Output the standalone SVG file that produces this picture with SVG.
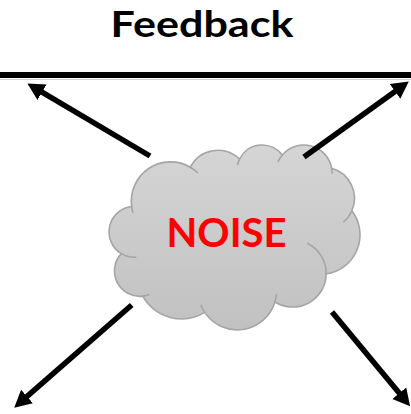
<svg xmlns="http://www.w3.org/2000/svg" width="411" height="414" viewBox="0 0 411 414">
  <defs>
    <linearGradient id="cloudFill" x1="0" y1="0" x2="0" y2="1">
      <stop offset="0" stop-color="#d5d5d5"/>
      <stop offset="1" stop-color="#c1c1c1"/>
    </linearGradient>
    <marker id="head" markerUnits="userSpaceOnUse" markerWidth="18" markerHeight="20" viewBox="0 0 18 20" refX="6" refY="10" orient="auto">
      <path d="M0,1 L17,10 L0,19 Z" fill="#000"/>
    </marker>
  </defs>
  <style>
    .title { font-family: Lato, "Open Sans", sans-serif; font-weight: bold; font-size: 36px; fill: #000; }
    .noise { font-family: Lato, "Open Sans", sans-serif; font-weight: bold; font-size: 40px; fill: #ff0000; }
    .cloud { fill: url(#cloudFill); stroke: #a5a5a5; stroke-width: 1.6; }
    .cloud-inner { fill: none; stroke: #a5a5a5; stroke-width: 1.6; }
    .arrow { stroke: #000; stroke-width: 5.5; fill: none; marker-end: url(#head); }
  </style>

  <!-- heading and the bar under it -->
  <g id="feedback">
    <text class="title" x="202" y="37" text-anchor="middle" textLength="183" lengthAdjust="spacingAndGlyphs">Feedback</text>
    <rect x="0" y="72" width="411" height="6" fill="#000"/>
    <line x1="0" y1="79.5" x2="411" y2="79.5" stroke="#d2d2d2" stroke-width="1"/>
  </g>

  <!-- cloud built in a 43200-unit box, scaled onto the page -->
  <g id="noise">
    <g transform="translate(109,145) scale(0.0058102,0.0042824)">
      <path class="cloud" vector-effect="non-scaling-stroke"
        d="M3900,14370
           A6753,9190 0 0 1 14000,5192
           A5333,7267 0 0 1 22462,3281
           A4365,5945 0 0 1 29839,2330
           A4857,6595 0 0 1 38324,5426
           A5333,7273 0 0 1 41798,15354
           A6775,9220 0 0 1 37384,30097
           A5785,7867 0 0 1 28550,36660
           A6752,9215 0 0 1 16478,39090
           A7720,10543 0 0 1 5802,35297
           A4360,5918 0 0 1 2111,25375
           A4345,5945 0 0 1 3900,14370 Z"/>
      <path class="cloud-inner" vector-effect="non-scaling-stroke"
        d="M4693,26177 A4345,5945 0 0 1 2111,25375
           M6928,34899 A4360,5918 0 0 1 5802,35297
           M16478,39090 A6752,9215 0 0 1 15810,37351
           M28827,34751 A6752,9215 0 0 1 28550,36660
           M34129,22954 A5785,7867 0 0 1 37384,30097
           M41798,15354 A5333,7273 0 0 1 40348,18033
           M38324,5426 A4857,6595 0 0 1 38401,6690
           M29078,3952 A4857,6595 0 0 1 29839,2330
           M22141,4720 A4365,5945 0 0 1 22462,3281
           M14000,5192 A6753,9190 0 0 1 15300,6539
           M4127,15789 A6753,9190 0 0 1 3900,14370"/>
    </g>
    <text class="noise" x="226.5" y="247" text-anchor="middle" textLength="120" lengthAdjust="spacingAndGlyphs">NOISE</text>
  </g>

  <!-- arrows leaving the cloud -->
  <g id="connectors">
    <line class="arrow" x1="150" y1="156" x2="36.9" y2="89.1"/>
    <line class="arrow" x1="304" y1="157" x2="399.9" y2="87.9"/>
    <line class="arrow" x1="131.7" y1="305" x2="22.5" y2="400.4"/>
    <line class="arrow" x1="332" y1="312" x2="403.1" y2="397.8"/>
  </g>
</svg>
